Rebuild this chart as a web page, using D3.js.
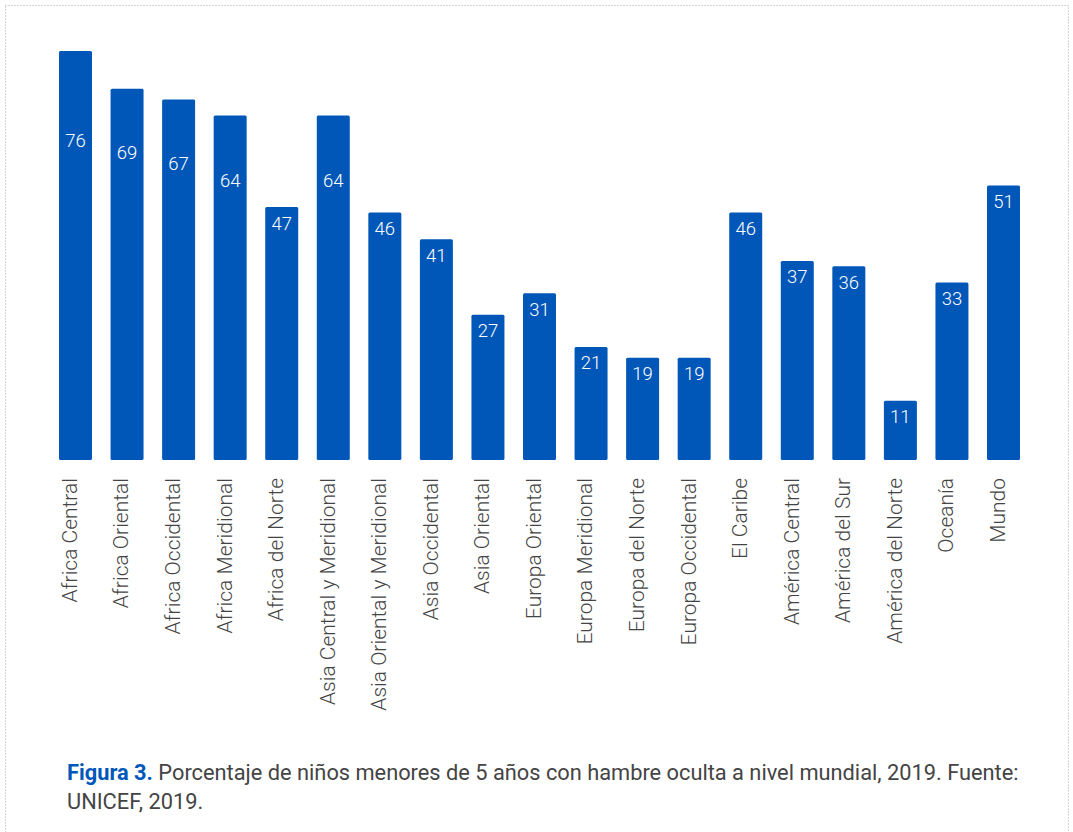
<!DOCTYPE html>
<html>
<head>
<meta charset="utf-8">
<script src="https://cdn.jsdelivr.net/npm/d3@7"></script>
<style>
  body { margin: 0; background: #fff; }
  svg { display: block; font-family: Roboto, "Noto Sans", sans-serif; }
</style>
</head>
<body>
<div id="chart"></div>
<script>
// regions and values (percent of children under 5 with hidden hunger)
var regions = ["Africa Central", "Africa Oriental", "Africa Occidental", "Africa Meridional",
  "Africa del Norte", "Asia Central y Meridional", "Asia Oriental y Meridional", "Asia Occidental",
  "Asia Oriental", "Europa Oriental", "Europa Meridional", "Europa del Norte", "Europa Occidental",
  "El Caribe", "América Central", "América del Sur", "América del Norte", "Oceanía", "Mundo"];
var values = [76, 69, 67, 64, 47, 64, 46, 41, 27, 31, 21, 19, 19, 46, 37, 36, 11, 33, 51];
// where the value label sits, in data units (null = just under the bar top)
var labelAt = [59.3, 57.1, 55, 51.9, null, 51.9, null, null, null, null, null, null, null, null, null, null, null, null, null];

var captionBold = "Figura 3.";
var captionRest = " Porcentaje de niños menores de 5 años con hambre oculta a nivel mundial, 2019. Fuente:";
var captionLine2 = "UNICEF, 2019.";

var W = 1073, H = 832;
var blue = "#0057b8";

var svg = d3.select("#chart").append("svg")
  .attr("width", W)
  .attr("height", H);

// dotted frame
svg.append("rect")
  .attr("x", 5.5).attr("y", 5.5)
  .attr("width", 1063).attr("height", 900)
  .attr("fill", "none")
  .attr("stroke", "#aaa")
  .attr("stroke-dasharray", "1,2");

var x = d3.scaleBand().domain(regions).range([59, 1020]).paddingInner(0.36).paddingOuter(0);
var y = d3.scaleLinear().domain([0, 76]).range([460, 51]);

var data = regions.map(function(r, i) { return {region: r, value: values[i], at: labelAt[i]}; });

svg.selectAll(".bar")
  .data(data)
  .enter().append("rect")
  .attr("class", "bar")
  .attr("x", function(d) { return x(d.region); })
  .attr("y", function(d) { return y(d.value); })
  .attr("width", x.bandwidth())
  .attr("height", function(d) { return y(0) - y(d.value); })
  .attr("rx", 1.5)
  .attr("fill", blue);

svg.selectAll(".val")
  .data(data)
  .enter().append("text")
  .attr("class", "val")
  .attr("x", function(d) { return x(d.region) + x.bandwidth() / 2; })
  .attr("y", function(d) { return d.at == null ? y(d.value) + 16 : y(d.at); })
  .attr("dy", "0.35em")
  .attr("text-anchor", "middle")
  .attr("fill", "#fff")
  .style("font-size", "18.5px")
  .style("font-weight", 300)
  .text(function(d) { return d.value; });

// category axis, rotated labels
var xAxis = d3.axisBottom(x).tickSize(0).tickPadding(0);
var gx = svg.append("g")
  .attr("transform", "translate(0," + y(0) + ")")
  .call(xAxis);
gx.select(".domain").remove();
gx.selectAll("text")
  .attr("transform", "rotate(-90)")
  .attr("x", -18)
  .attr("y", -6)
  .attr("dy", "0.35em")
  .attr("text-anchor", "end")
  .attr("fill", "#444")
  .style("font-family", "Roboto, sans-serif")
  .style("font-size", "21px")
  .style("font-weight", 300);

// caption
var cap = svg.append("text")
  .attr("x", 67).attr("y", 780)
  .style("font-size", "21.8px")
  .attr("fill", "#444");
cap.append("tspan").attr("fill", blue).style("font-weight", 700).text(captionBold);
cap.append("tspan").text(captionRest);
svg.append("text")
  .attr("x", 67).attr("y", 809)
  .style("font-size", "21.8px")
  .attr("fill", "#444")
  .text(captionLine2);
</script>
</body>
</html>
